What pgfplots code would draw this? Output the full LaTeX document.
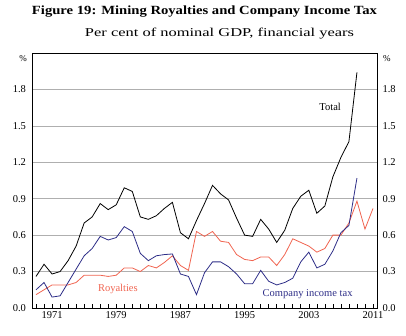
\documentclass[border=0pt]{standalone}
\usepackage{fontspec}
\setmainfont{Liberation Serif}
\usepackage{graphicx}
\usepackage{pgfplots}
\pgfplotsset{compat=1.18}
\definecolor{roy}{RGB}{240,100,80}
\definecolor{cit}{RGB}{45,45,135}
\definecolor{gridc}{RGB}{175,175,175}
\begin{document}
\begin{tikzpicture}[x=1pt,y=1pt]
\path[use as bounding box] (0,0) rectangle (406,336);
\node[inner sep=0pt] at (204.5,324) {\resizebox{345pt}{\height}{\fontsize{12.5}{15}\selectfont\bfseries Figure 19: Mining Royalties and Company Income Tax}};
\node[inner sep=0pt] at (219.5,302.5) {\resizebox{269pt}{\height}{\fontsize{12}{15}\selectfont Per cent of nominal GDP, financial years}};
\begin{axis}[
  at={(32pt,28pt)}, anchor=south west,
  width=345pt, height=255pt, scale only axis,
  xmin=1968.5, xmax=2011.5, ymin=0, ymax=2.1,
  xtick={1971,1979,1987,1995,2003,2011},
  minor xtick={1969,1970,...,2011},
  xtick pos=left, tick align=inside,
  major tick length=4pt, minor tick length=4pt,
  x tick label style={/pgf/number format/1000 sep={}},
  ytick={0,0.3,0.6,0.9,1.2,1.5,1.8},
  ytick pos=left,
  y tick style={draw=none},
  y tick label style={/pgf/number format/fixed,/pgf/number format/fixed zerofill,/pgf/number format/precision=1,xshift=-2.5pt},
  ymajorgrids, grid style={gridc, line width=0.7pt},
  axis line style={line width=0.8pt},
  tick style={black, line width=0.6pt},
  tick label style={font=\fontsize{10.5}{12}\selectfont},
  /pgf/number format/assume math mode=true,
  clip=false,
]
\addplot[black, line width=0.8pt] coordinates {
(1969,0.26)(1970,0.36)(1971,0.28)(1972,0.30)(1973,0.39)(1974,0.51)(1975,0.70)
(1976,0.75)(1977,0.86)(1978,0.81)(1979,0.85)(1980,0.99)(1981,0.96)(1982,0.75)
(1983,0.73)(1984,0.76)(1985,0.82)(1986,0.87)(1987,0.62)(1988,0.57)(1989,0.72)
(1990,0.86)(1991,1.01)(1992,0.94)(1993,0.89)(1994,0.74)(1995,0.60)(1996,0.59)
(1997,0.73)(1998,0.65)(1999,0.54)(2000,0.64)(2001,0.82)(2002,0.92)(2003,0.97)
(2004,0.78)(2005,0.84)(2006,1.08)(2007,1.24)(2008,1.37)(2009,1.94)};
\addplot[roy, line width=0.8pt] coordinates {
(1969,0.11)(1970,0.15)(1971,0.19)(1972,0.19)(1973,0.19)(1974,0.21)(1975,0.27)
(1976,0.27)(1977,0.27)(1978,0.26)(1979,0.27)(1980,0.33)(1981,0.33)(1982,0.30)
(1983,0.35)(1984,0.33)(1985,0.375)(1986,0.43)(1987,0.35)(1988,0.31)(1989,0.63)
(1990,0.59)(1991,0.63)(1992,0.55)(1993,0.54)(1994,0.44)(1995,0.40)(1996,0.39)
(1997,0.42)(1998,0.42)(1999,0.35)(2000,0.44)(2001,0.57)(2002,0.54)(2003,0.51)
(2004,0.46)(2005,0.49)(2006,0.60)(2007,0.60)(2008,0.70)(2009,0.88)(2010,0.65)
(2011,0.82)};
\addplot[cit, line width=0.8pt] coordinates {
(1969,0.15)(1970,0.21)(1971,0.09)(1972,0.10)(1973,0.21)(1974,0.32)(1975,0.43)
(1976,0.49)(1977,0.59)(1978,0.56)(1979,0.58)(1980,0.67)(1981,0.63)(1982,0.45)
(1983,0.39)(1984,0.43)(1985,0.44)(1986,0.445)(1987,0.28)(1988,0.26)(1989,0.11)
(1990,0.29)(1991,0.38)(1992,0.38)(1993,0.34)(1994,0.28)(1995,0.20)(1996,0.20)
(1997,0.31)(1998,0.22)(1999,0.19)(2000,0.21)(2001,0.245)(2002,0.38)(2003,0.46)
(2004,0.33)(2005,0.36)(2006,0.47)(2007,0.62)(2008,0.68)(2009,1.07)};
\node[font=\fontsize{10.5}{12}\selectfont] at (axis cs:2005.66,1.66) {Total};
\node[font=\fontsize{10.5}{12}\selectfont, text=roy] at (axis cs:1979.2,0.157) {Royalties};
\node[font=\fontsize{10.5}{12}\selectfont, text=cit] at (axis cs:2002.85,0.116) {Company income tax};
\node[font=\fontsize{9}{10}\selectfont, anchor=north east, inner sep=0pt] at ([xshift=-5pt,yshift=-2pt]rel axis cs:0,1) {\%};
\node[font=\fontsize{9}{10}\selectfont, anchor=north west, inner sep=0pt] at ([xshift=6pt,yshift=-2pt]rel axis cs:1,1) {\%};
\end{axis}
\begin{axis}[
  at={(32pt,28pt)}, anchor=south west,
  width=345pt, height=255pt, scale only axis,
  xmin=1968.5, xmax=2011.5, ymin=0, ymax=2.1,
  hide x axis,
  axis y line*=right,
  ytick={0,0.3,0.6,0.9,1.2,1.5,1.8},
  y tick style={draw=none},
  y tick label style={/pgf/number format/fixed,/pgf/number format/fixed zerofill,/pgf/number format/precision=1,xshift=2pt},
  axis line style={line width=0.8pt},
  tick label style={font=\fontsize{10.5}{12}\selectfont},
  /pgf/number format/assume math mode=true,
]
\end{axis}
\end{tikzpicture}
\end{document}
